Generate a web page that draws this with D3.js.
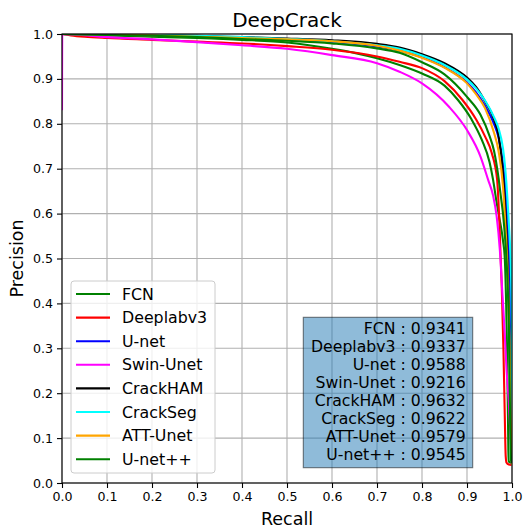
<!DOCTYPE html>
<html>
<head>
<meta charset="utf-8">
<script src="https://cdn.jsdelivr.net/npm/d3@7"></script>
<style>
  html, body { margin: 0; padding: 0; background: #fff; }
  svg { display: block; font-family: "DejaVu Sans", sans-serif; }
</style>
</head>
<body>
<svg id="chart" width="523" height="529"></svg>
<script>
// Precision-recall curves on DeepCrack, one [recall, precision] list per model.
const fcnCurve = [[0,1],[0.1,0.997],[0.2,0.994],[0.3,0.991],[0.4,0.987],[0.5,0.981],[0.6,0.967],[0.65,0.958],[0.7,0.946],[0.75,0.931],[0.8,0.912],[0.85,0.885],[0.88,0.853],[0.91,0.81],[0.933,0.764],[0.95,0.715],[0.958,0.675],[0.965,0.63],[0.972,0.59],[0.98,0.54],[0.984,0.5],[0.987,0.4],[0.989,0.3],[0.991,0.15],[0.992,0.07],[0.993,0.048],[0.997,0.045],[1.0,0.045]];
const deeplabCurve = [[0,1],[0.02,0.997],[0.05,0.994],[0.1,0.991],[0.2,0.987],[0.3,0.983],[0.4,0.979],[0.5,0.973],[0.6,0.965],[0.7,0.95],[0.75,0.938],[0.8,0.924],[0.85,0.895],[0.89,0.853],[0.92,0.81],[0.94,0.772],[0.955,0.735],[0.967,0.675],[0.972,0.58],[0.977,0.445],[0.981,0.296],[0.984,0.148],[0.986,0.06],[0.988,0.045],[0.993,0.041],[0.999,0.04]];
const unetCurve = [[0,1],[0.1,0.999],[0.2,0.997],[0.3,0.995],[0.4,0.992],[0.5,0.988],[0.6,0.982],[0.7,0.972],[0.75,0.963],[0.8,0.948],[0.85,0.926],[0.9,0.892],[0.92,0.87],[0.94,0.84],[0.96,0.8],[0.97,0.77],[0.98,0.71],[0.985,0.66],[0.99,0.58],[0.994,0.5],[0.997,0.4],[0.999,0.25],[1.0,0.04]];
const swinCurve = [[0,0.83],[0.0005,1],[0.1,0.993],[0.2,0.988],[0.3,0.982],[0.4,0.975],[0.5,0.967],[0.6,0.953],[0.7,0.935],[0.75,0.916],[0.8,0.89],[0.86,0.838],[0.9,0.786],[0.93,0.727],[0.947,0.675],[0.958,0.64],[0.966,0.593],[0.973,0.519],[0.979,0.415],[0.984,0.33],[0.988,0.25],[0.993,0.18],[0.997,0.1],[1.0,0.04]];
const crackhamCurve = [[0,1],[0.1,0.999],[0.2,0.998],[0.3,0.996],[0.4,0.993],[0.5,0.99],[0.6,0.986],[0.7,0.978],[0.75,0.97],[0.8,0.955],[0.85,0.935],[0.9,0.903],[0.92,0.882],[0.94,0.85],[0.96,0.81],[0.97,0.775],[0.98,0.69],[0.985,0.61],[0.99,0.5],[0.994,0.35],[0.997,0.18],[0.999,0.06],[1.0,0.04]];
const crackSegCurve = [[0,1],[0.1,0.999],[0.2,0.998],[0.3,0.996],[0.4,0.993],[0.5,0.989],[0.6,0.984],[0.7,0.975],[0.75,0.967],[0.8,0.952],[0.85,0.931],[0.9,0.899],[0.92,0.879],[0.94,0.852],[0.96,0.815],[0.97,0.79],[0.98,0.745],[0.985,0.7],[0.99,0.63],[0.994,0.56],[0.996,0.52],[0.998,0.46],[0.9995,0.35],[1.0,0.04]];
const attUnetCurve = [[0,1],[0.1,0.999],[0.2,0.997],[0.3,0.994],[0.4,0.991],[0.5,0.988],[0.6,0.984],[0.7,0.974],[0.75,0.963],[0.8,0.947],[0.85,0.925],[0.9,0.89],[0.92,0.866],[0.94,0.835],[0.96,0.78],[0.97,0.74],[0.98,0.66],[0.985,0.58],[0.99,0.47],[0.994,0.32],[0.997,0.15],[0.999,0.06],[1.0,0.04]];
const unetPPCurve = [[0,1],[0.1,0.998],[0.2,0.996],[0.3,0.993],[0.4,0.989],[0.5,0.985],[0.6,0.979],[0.7,0.968],[0.75,0.958],[0.8,0.937],[0.85,0.91],[0.9,0.86],[0.93,0.82],[0.95,0.773],[0.96,0.74],[0.97,0.68],[0.975,0.64],[0.98,0.6],[0.985,0.54],[0.99,0.45],[0.993,0.35],[0.995,0.2],[0.997,0.08],[0.998,0.05],[1.0,0.045]];

const modelNames = ["FCN", "Deeplabv3", "U-net", "Swin-Unet", "CrackHAM", "CrackSeg", "ATT-Unet", "U-net++"];
const modelColors = ["#008000", "#ff0000", "#0000ff", "#ff00ff", "#000000", "#00ffff", "#ffa500", "#008000"];
const modelCurves = [fcnCurve, deeplabCurve, unetCurve, swinCurve, crackhamCurve, crackSegCurve, attUnetCurve, unetPPCurve];
const apScores = ["0.9341", "0.9337", "0.9588", "0.9216", "0.9632", "0.9622", "0.9579", "0.9545"];
const tickValues = [0, 0.1, 0.2, 0.3, 0.4, 0.5, 0.6, 0.7, 0.8, 0.9, 1.0];

const svg = d3.select("#chart");
const plot = { left: 62, top: 34, width: 450, height: 449 };

const x = d3.scaleLinear().domain([0, 1]).range([plot.left, plot.left + plot.width]);
const y = d3.scaleLinear().domain([0, 1]).range([plot.top + plot.height, plot.top]);

// grid
const grid = svg.append("g").attr("stroke", "#b0b0b0").attr("stroke-width", 1.1);
tickValues.forEach(t => {
  grid.append("line").attr("x1", x(t)).attr("x2", x(t)).attr("y1", y(0)).attr("y2", y(1));
  grid.append("line").attr("y1", y(t)).attr("y2", y(t)).attr("x1", x(0)).attr("x2", x(1));
});

// clip curves to the axes area
svg.append("defs").append("clipPath").attr("id", "plot-clip")
  .append("rect").attr("x", plot.left).attr("y", plot.top)
  .attr("width", plot.width).attr("height", plot.height);

const line = d3.line()
  .x(d => x(d[0]))
  .y(d => y(d[1]))
  .curve(d3.curveMonotoneX);

const curves = svg.append("g").attr("clip-path", "url(#plot-clip)");
modelCurves.forEach((c, i) => {
  curves.append("path")
    .datum(c)
    .attr("d", line)
    .attr("fill", "none")
    .attr("stroke", modelColors[i])
    .attr("stroke-width", 2.1)
    .attr("stroke-linejoin", "round");
});

// axes
const fmt = d3.format(".1f");
const xAxis = svg.append("g")
  .attr("transform", `translate(0,${plot.top + plot.height})`)
  .call(d3.axisBottom(x).tickValues(tickValues).tickFormat(fmt).tickSize(5).tickPadding(4));
const yAxis = svg.append("g")
  .attr("transform", `translate(${plot.left},0)`)
  .call(d3.axisLeft(y).tickValues(tickValues).tickFormat(fmt).tickSize(5).tickPadding(4));
[xAxis, yAxis].forEach(a => {
  a.select(".domain").remove();
  a.selectAll(".tick line").attr("stroke", "#000").attr("stroke-width", 1.1);
  a.selectAll(".tick text").attr("fill", "#000")
    .style("font-family", "'DejaVu Sans', sans-serif").style("font-size", "12.6px");
});

// spines
svg.append("rect")
  .attr("x", plot.left).attr("y", plot.top)
  .attr("width", plot.width).attr("height", plot.height)
  .attr("fill", "none").attr("stroke", "#000").attr("stroke-width", 1.1);

// title and axis labels
svg.append("text")
  .attr("x", plot.left + plot.width / 2).attr("y", 27)
  .attr("text-anchor", "middle").style("font-size", "20px")
  .text("DeepCrack");
svg.append("text")
  .attr("x", plot.left + plot.width / 2).attr("y", 525)
  .attr("text-anchor", "middle").style("font-size", "17.5px")
  .text("Recall");
svg.append("text")
  .attr("transform", `translate(23,${plot.top + plot.height / 2}) rotate(-90)`)
  .attr("text-anchor", "middle").style("font-size", "17.5px")
  .text("Precision");

// legend
const legend = svg.append("g");
legend.append("rect")
  .attr("x", 71).attr("y", 281).attr("width", 144).attr("height", 192)
  .attr("rx", 3).attr("fill", "#fff").attr("fill-opacity", 0.8)
  .attr("stroke", "#cccccc").attr("stroke-width", 1);
modelNames.forEach((name, i) => {
  const cy = 294 + i * 23.6;
  legend.append("line")
    .attr("x1", 76).attr("x2", 110).attr("y1", cy).attr("y2", cy)
    .attr("stroke", modelColors[i]).attr("stroke-width", 2.1);
  legend.append("text")
    .attr("x", 122).attr("y", cy).attr("dy", "0.36em")
    .style("font-size", "15.8px").text(name);
});

// average-precision box
const apBox = svg.append("g");
apBox.append("rect")
  .attr("x", 303.3).attr("y", 317.3).attr("width", 169.4).attr("height", 150.4)
  .attr("fill", "#1f77b4").attr("fill-opacity", 0.5)
  .attr("stroke", "#000").attr("stroke-opacity", 0.5).attr("stroke-width", 1.1);
modelNames.forEach((name, i) => {
  apBox.append("text")
    .attr("x", 465.7).attr("y", 328.3 + i * 18.0).attr("dy", "0.36em")
    .attr("text-anchor", "end").style("font-size", "15.7px")
    .text(`${name} : ${apScores[i]}`);
});
</script>
</body>
</html>
